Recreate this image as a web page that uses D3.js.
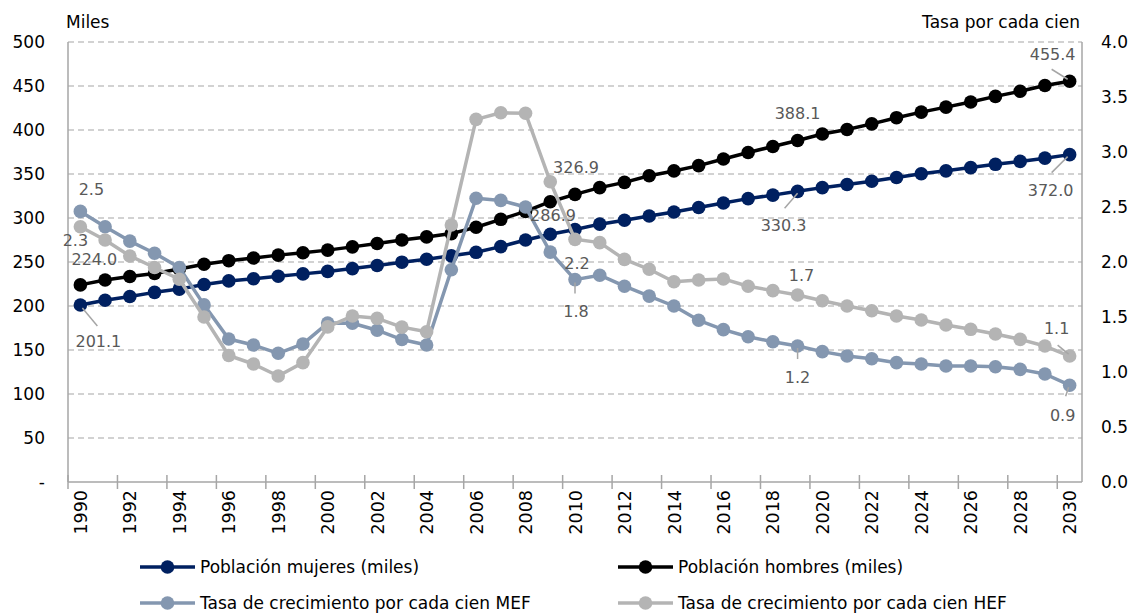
<!DOCTYPE html>
<html>
<head>
<meta charset="utf-8">
<script src="https://cdn.jsdelivr.net/npm/d3@7"></script>
<style>
  html, body { margin: 0; padding: 0; background: #fff; }
  svg { display: block; font-family: "DejaVu Sans", sans-serif; }
</style>
</head>
<body>
<svg id="chart" width="1133" height="613"></svg>
<script>
// ---------- DATA ----------
const years = d3.range(1990, 2031);
const xTickYears = d3.range(1990, 2031, 2);
const mujeres = [201.1, 206.5, 210.8, 215.5, 219.2, 224.5, 228.5, 231.0, 233.8, 236.5,
  239.3, 242.5, 246.0, 249.8, 253.2, 257.0, 261.0, 267.5, 275.0, 281.5,
  286.9, 293.0, 297.5, 302.3, 306.8, 312.0, 317.0, 322.0, 326.0, 330.3,
  334.5, 338.0, 341.8, 346.0, 350.3, 353.6, 357.3, 361.0, 364.3, 368.0, 372.0];
const hombres = [224.0, 229.5, 233.5, 237.0, 242.0, 247.5, 251.5, 254.5, 257.8, 260.5,
  263.5, 267.2, 271.0, 275.0, 278.5, 282.3, 289.5, 298.5, 307.5, 318.5,
  326.9, 334.5, 340.5, 348.0, 353.5, 359.5, 367.0, 374.5, 381.3, 388.1,
  395.5, 400.5, 407.0, 414.0, 420.3, 426.0, 431.8, 438.2, 444.0, 450.5, 455.4];
const tasaMEF = [2.46, 2.32, 2.19, 2.08, 1.95, 1.61, 1.30, 1.245, 1.17, 1.255,
  1.445, 1.443, 1.38, 1.295, 1.245, 1.93, 2.58, 2.56, 2.50, 2.09,
  1.84, 1.88, 1.78, 1.69, 1.60, 1.47, 1.385, 1.32, 1.275, 1.236,
  1.185, 1.145, 1.12, 1.085, 1.073, 1.055, 1.055, 1.048, 1.024, 0.982, 0.88];
const tasaHEF = [2.32, 2.20, 2.055, 1.95, 1.843, 1.50, 1.15, 1.073, 0.964, 1.085,
  1.41, 1.509, 1.488, 1.408, 1.366, 2.336, 3.297, 3.357, 3.352, 2.73,
  2.206, 2.176, 2.024, 1.934, 1.82, 1.836, 1.846, 1.78, 1.74, 1.70,
  1.648, 1.60, 1.557, 1.509, 1.473, 1.427, 1.388, 1.345, 1.297, 1.236, 1.145];
const leftTicks = d3.range(0, 501, 50);
const rightTicks = d3.range(0, 4.01, 0.5);
const seriesNames = ["Población mujeres (miles)", "Población hombres (miles)",
  "Tasa de crecimiento por cada cien MEF", "Tasa de crecimiento por cada cien HEF"];
const leftTitle = "Miles";
const rightTitle = "Tasa por cada cien";

// ---------- SETUP ----------
const svg = d3.select("#chart");
const L = 68, R = 1082, T = 42, B = 482;
const x = d3.scalePoint().domain(years).range([L, R]).padding(0.5);
const step = x.step();
const yL = d3.scaleLinear().domain([0, 500]).range([B, T]);
const yR = d3.scaleLinear().domain([0, 4]).range([B, T]);

const colors = ["#002060", "#000000", "#8497b0", "#b4b4b4"];
const series = [
  { name: seriesNames[0], values: mujeres, y: yL, color: colors[0], fmt: d3.format(".1f") },
  { name: seriesNames[1], values: hombres, y: yL, color: colors[1], fmt: d3.format(".1f") },
  { name: seriesNames[2], values: tasaMEF, y: yR, color: colors[2], fmt: d3.format(".1f") },
  { name: seriesNames[3], values: tasaHEF, y: yR, color: colors[3], fmt: d3.format(".1f") }
];

// gridlines (dashed)
svg.append("g").selectAll("line").data(leftTicks.filter(d => d > 0)).join("line")
  .attr("x1", L).attr("x2", R)
  .attr("y1", d => yL(d)).attr("y2", d => yL(d))
  .attr("stroke", "#a6a6a6").attr("stroke-width", 1.2).attr("stroke-dasharray", "6,4");

// axis lines
const axisColor = "#a6a6a6";
svg.append("line").attr("x1", L).attr("x2", L).attr("y1", T).attr("y2", B).attr("stroke", axisColor).attr("stroke-width", 1.5);
svg.append("line").attr("x1", R).attr("x2", R).attr("y1", T).attr("y2", B).attr("stroke", axisColor).attr("stroke-width", 1.5);
svg.append("line").attr("x1", L).attr("x2", R).attr("y1", B).attr("y2", B).attr("stroke", axisColor).attr("stroke-width", 1.5);

// x tick marks at category boundaries every 2 years
svg.append("g").selectAll("line").data(xTickYears).join("line")
  .attr("x1", d => x(d) - step / 2).attr("x2", d => x(d) - step / 2)
  .attr("y1", B - 7).attr("y2", B + 7)
  .attr("stroke", axisColor).attr("stroke-width", 1.5);

// x labels
const xAxis = d3.axisBottom(x).tickValues(xTickYears).tickSize(0).tickPadding(0);
const gx = svg.append("g").attr("transform", `translate(0,${B})`).call(xAxis);
gx.select(".domain").remove();
gx.selectAll("text")
  .attr("font-size", 17.5).attr("fill", "#000")
  .attr("font-family", "DejaVu Sans")
  .attr("text-anchor", "end")
  .attr("transform", "translate(0,8) rotate(-90)")
  .attr("x", 0).attr("y", 0).attr("dy", "0.35em");

// left axis
const gl = svg.append("g").attr("transform", `translate(${L},0)`)
  .call(d3.axisLeft(yL).tickValues(leftTicks).tickSize(0).tickPadding(23)
    .tickFormat(d => d === 0 ? "-" : d));
gl.select(".domain").remove();
gl.selectAll("text").attr("font-size", 17).attr("fill", "#000").attr("font-family", "DejaVu Sans");

// right axis
const gr = svg.append("g").attr("transform", `translate(${R},0)`)
  .call(d3.axisRight(yR).tickValues(rightTicks).tickSize(0).tickPadding(19)
    .tickFormat(d3.format(".1f")));
gr.select(".domain").remove();
gr.selectAll("text").attr("font-size", 17).attr("fill", "#000").attr("font-family", "DejaVu Sans");

// axis titles
svg.append("text").attr("x", 66).attr("y", 28).attr("font-size", 17).attr("fill", "#000").text(leftTitle);
svg.append("text").attr("x", 1080).attr("y", 28).attr("text-anchor", "end").attr("font-size", 17).attr("fill", "#000").text(rightTitle);

// series
series.forEach(s => {
  const line = d3.line().x((d, i) => x(years[i])).y(d => s.y(d));
  const g = svg.append("g");
  g.append("path").datum(s.values).attr("d", line)
    .attr("fill", "none").attr("stroke", s.color).attr("stroke-width", 3.5)
    .attr("stroke-linejoin", "round");
  g.selectAll("circle").data(s.values).join("circle")
    .attr("cx", (d, i) => x(years[i])).attr("cy", d => s.y(d))
    .attr("r", 6.8).attr("fill", s.color);
});

// data labels: series index, year, offset of label centre, optional leader line
const labels = [
  { s: 2, year: 1990, dx: 11, dy: -22 },
  { s: 3, year: 1990, dx: -5, dy: 14 },
  { s: 1, year: 1990, dx: 14, dy: -25 },
  { s: 0, year: 1990, dx: 18, dy: 36, lead: [[2, 3], [17, 21]] },
  { s: 1, year: 2010, dx: 1, dy: -27 },
  { s: 0, year: 2010, dx: -22, dy: -14 },
  { s: 3, year: 2010, dx: 2, dy: 24 },
  { s: 2, year: 2010, dx: 1, dy: 32, lead: [[0, 3], [0, 14]] },
  { s: 1, year: 2019, dx: 0, dy: -27 },
  { s: 0, year: 2019, dx: -14, dy: 34, lead: [[0, 2], [-13, 17]] },
  { s: 3, year: 2019, dx: 4, dy: -20 },
  { s: 2, year: 2019, dx: 0, dy: 31, lead: [[0, 2], [0, 13]] },
  { s: 1, year: 2030, dx: -17, dy: -27, lead: [[-2, -2], [-18, -12]] },
  { s: 0, year: 2030, dx: -19, dy: 36, lead: [[-2, 2], [-18, 18]] },
  { s: 3, year: 2030, dx: -13, dy: -28, lead: [[-1, -2], [-12, -11]] },
  { s: 2, year: 2030, dx: -7, dy: 30, lead: [[-1, 2], [-4, 11]] }
];
const lg = svg.append("g");
labels.forEach(l => {
  const s = series[l.s];
  const i = years.indexOf(l.year);
  const px = x(l.year), py = s.y(s.values[i]);
  if (l.lead) {
    lg.append("line")
      .attr("x1", px + l.lead[0][0]).attr("y1", py + l.lead[0][1])
      .attr("x2", px + l.lead[1][0]).attr("y2", py + l.lead[1][1])
      .attr("stroke", "#a6a6a6").attr("stroke-width", 1.5);
  }
  lg.append("text")
    .attr("x", px + l.dx).attr("y", py + l.dy).attr("dy", "0.35em")
    .attr("text-anchor", "middle").attr("font-size", 16).attr("fill", "#595959")
    .text(s.fmt(s.values[i]));
});

// legend
const legendPos = [[140, 567], [618, 567], [140, 603], [618, 603]];
series.forEach((s, k) => {
  const [lx, ly] = legendPos[k];
  const g = svg.append("g").attr("transform", `translate(${lx},${ly})`);
  g.append("line").attr("x1", 0).attr("x2", 55).attr("y1", 0).attr("y2", 0)
    .attr("stroke", s.color).attr("stroke-width", 3.5);
  g.append("circle").attr("cx", 27.5).attr("cy", 0).attr("r", 6.8).attr("fill", s.color);
  g.append("text").attr("x", 60).attr("y", 0).attr("dy", "0.35em")
    .attr("font-size", 17).attr("fill", "#000").text(s.name);
});
</script>
</body>
</html>
